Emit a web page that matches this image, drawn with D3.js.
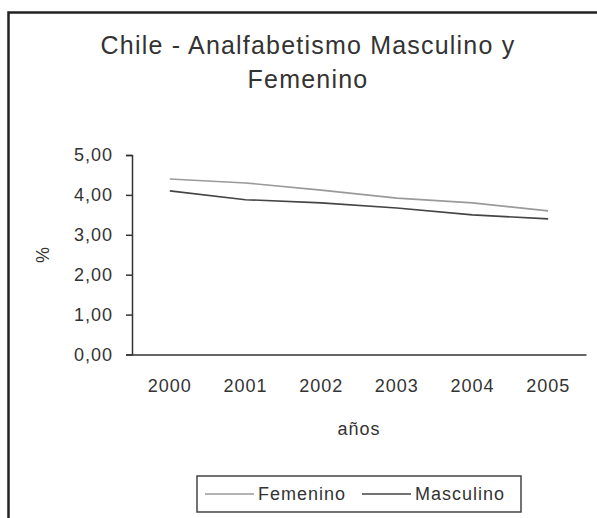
<!DOCTYPE html>
<html lang="es">
<head>
    <meta charset="UTF-8">
    <title>Chile - Analfabetismo Masculino y Femenino</title>
    <script src="https://d3js.org/d3.v7.min.js"></script>
    <style>
        body { margin: 0; background: #fff; }
        text { font-family: "Liberation Sans", Arial, sans-serif; fill: #333; }
    </style>
</head>
<body>
    <svg id="chart" width="597" height="518"></svg>
    <script>
        // Datos
        const years = ["2000", "2001", "2002", "2003", "2004", "2005"];
        const femenino = [4.40, 4.30, 4.12, 3.92, 3.80, 3.60];
        const masculino = [4.10, 3.88, 3.80, 3.67, 3.50, 3.40];
        const yTicks = [0, 1, 2, 3, 4, 5];

        const series = [
            { name: "Femenino", values: femenino, color: "#9a9a9a" },
            { name: "Masculino", values: masculino, color: "#444" }
        ];

        const svg = d3.select("#chart");

        // marco exterior
        svg.append("rect")
            .attr("x", 8.5).attr("y", 12.5)
            .attr("width", 620).attr("height", 540)
            .attr("fill", "none")
            .attr("stroke", "#222")
            .attr("stroke-width", 2.5);

        // titulo
        const title = svg.append("text")
            .attr("text-anchor", "middle")
            .style("font-size", "25px")
            .style("letter-spacing", "1.2px");
        title.append("tspan").attr("x", 308).attr("y", 54).text("Chile - Analfabetismo Masculino y");
        title.append("tspan").attr("x", 308).attr("y", 88).text("Femenino");

        const x = d3.scaleBand().domain(years).range([132, 586]);
        const y = d3.scaleLinear().domain([0, 5]).range([354.5, 155]);

        const fmt = d => d3.format(".2f")(d).replace(".", ",");

        // eje y
        const gy = svg.append("g")
            .attr("transform", "translate(132,0)")
            .call(d3.axisLeft(y).tickValues(yTicks).tickFormat(fmt).tickSize(6).tickPadding(13));
        gy.selectAll("text").style("font-size", "18px").style("letter-spacing", "1px");

        // eje x
        const gx = svg.append("g")
            .attr("transform", "translate(0,354.5)")
            .call(d3.axisBottom(x).tickSize(0).tickPadding(25));
        gx.selectAll("text").style("font-size", "18px").style("letter-spacing", "1px");
        // marcas entre categorias
        gx.selectAll(".sep")
            .data(years.slice(1).concat(["end"]))
            .enter().append("line")
            .attr("x1", d => d === "end" ? x.range()[1] : x(d))
            .attr("x2", d => d === "end" ? x.range()[1] : x(d))
            .attr("y1", 0).attr("y2", 6);

        svg.selectAll(".domain, .tick line, .sep")
            .attr("stroke", "#333")
            .attr("stroke-width", 1.5);

        // titulos de ejes
        svg.append("text")
            .attr("text-anchor", "middle")
            .attr("x", 359).attr("y", 435)
            .style("font-size", "18px")
            .style("letter-spacing", "1px")
            .text("años");

        svg.append("text")
            .attr("text-anchor", "middle")
            .attr("transform", "translate(49,255) rotate(-90)")
            .style("font-size", "18px")
            .text("%");

        // lineas
        const line = d3.line()
            .x((d, i) => x(years[i]) + x.bandwidth() / 2)
            .y(d => y(d));

        svg.selectAll(".serie")
            .data(series)
            .enter().append("path")
            .attr("class", "serie")
            .attr("d", d => line(d.values))
            .attr("fill", "none")
            .attr("stroke", d => d.color)
            .attr("stroke-width", 1.6);

        // leyenda
        const legend = svg.append("g");
        legend.append("rect")
            .attr("x", 197).attr("y", 476)
            .attr("width", 324).attr("height", 36)
            .attr("fill", "#fff")
            .attr("stroke", "#444")
            .attr("stroke-width", 1.5);

        const legendX = [205, 362];
        series.forEach((s, i) => {
            legend.append("line")
                .attr("x1", legendX[i]).attr("x2", legendX[i] + 49)
                .attr("y1", 494).attr("y2", 494)
                .attr("stroke", s.color)
                .attr("stroke-width", 1.6);
            legend.append("text")
                .attr("x", legendX[i] + 53).attr("y", 500)
                .style("font-size", "18px")
                .style("letter-spacing", "1px")
                .text(s.name);
        });
    </script>
</body>
</html>
